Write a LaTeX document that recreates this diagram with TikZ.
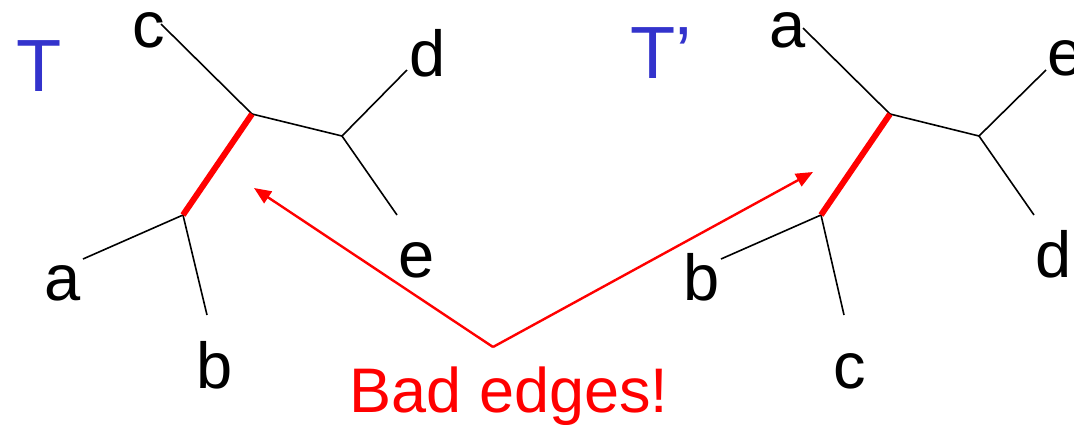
\documentclass[tikz,border=0pt]{standalone}
\usepackage{fontspec}
\setmainfont{Liberation Sans}
\usetikzlibrary{arrows.meta}
\definecolor{tblue}{RGB}{51,51,204}
\definecolor{bad}{RGB}{255,0,0}
\tikzset{
  edge/.style={draw=black, line width=1.6pt},
  badedge/.style={draw=bad, line width=6pt},
  pointer/.style={draw=bad, line width=2.4pt, -{Triangle[length=17pt,width=14pt]}},
  leaf/.style={inner sep=0pt, anchor=base, font=\fontsize{65}{70}\selectfont},
  treename/.style={inner sep=0pt, anchor=base west, text=tblue, font=\fontsize{74}{80}\selectfont},
  note/.style={inner sep=0pt, anchor=base, text=bad, font=\fontsize{63}{70}\selectfont}
}
\begin{document}
\begin{tikzpicture}[x=1pt,y=-1pt]
\useasboundingbox (0,0) rectangle (1074,424);
% ---------- tree T ----------
\node[treename] (T) at (16,91) {T};
\coordinate (u1) at (252,114);
\coordinate (v1) at (342,136);
\coordinate (w1) at (183,215);
\coordinate (c1) at (161,24);
\coordinate (d1) at (407,70);
\coordinate (e1) at (397,215);
\coordinate (a1) at (83,259);
\coordinate (b1) at (207,315);
\draw[edge] (c1) -- (u1);
\draw[edge] (u1) -- (v1);
\draw[edge] (v1) -- (d1);
\draw[edge] (v1) -- (e1);
\draw[edge] (w1) -- (a1);
\draw[edge] (w1) -- (b1);
\draw[badedge] (u1) -- (w1);
\node[leaf] (lc1) at (148.5,47) {c};
\node[leaf] (ld1) at (428,76) {d};
\node[leaf] (le1) at (416.5,277) {e};
\node[leaf] (la1) at (62.5,300) {a};
\node[leaf] (lb1) at (215,388) {b};
% ---------- tree T' ----------
\node[treename] (T2) at (630,78) {T’};
\coordinate (u2) at (890,114);
\coordinate (v2) at (979,136);
\coordinate (w2) at (821,215);
\coordinate (a2) at (803,28);
\coordinate (e2) at (1046,70);
\coordinate (d2) at (1034,215);
\coordinate (b2) at (721,259);
\coordinate (c2) at (844,315);
\draw[edge] (a2) -- (u2);
\draw[edge] (u2) -- (v2);
\draw[edge] (v2) -- (e2);
\draw[edge] (v2) -- (d2);
\draw[edge] (w2) -- (b2);
\draw[edge] (w2) -- (c2);
\draw[badedge] (u2) -- (w2);
\node[leaf] (la2) at (788,47) {a};
\node[leaf] (le2) at (1065.5,75) {e};
\node[leaf] (lb2) at (702,300) {b};
\node[leaf] (ld2) at (1054,277) {d};
\node[leaf] (lc2) at (850,388) {c};
% ---------- pointers ----------
\coordinate (apex) at (493,347);
\coordinate (tip1) at (254,188);
\coordinate (tip2) at (813,172);
\draw[pointer] (apex) -- (tip1);
\draw[pointer] (apex) -- (tip2);
\node[note] (bad) at (509,412) {Bad edges!};
\end{tikzpicture}
\end{document}
